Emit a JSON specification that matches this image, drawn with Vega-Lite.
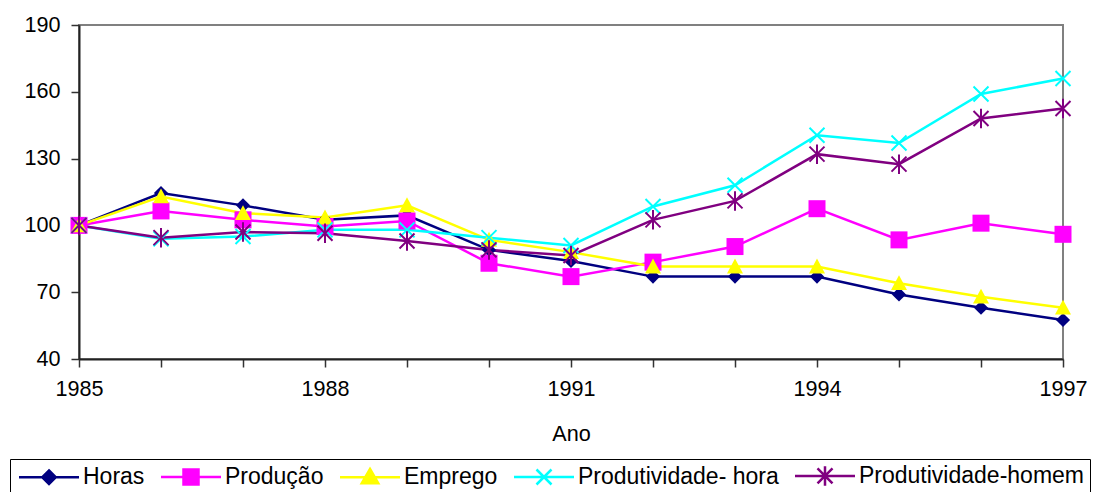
{
  "$schema": "https://vega.github.io/schema/vega-lite/v6.json",
  "width": 984,
  "height": 334,
  "autosize": {"type": "none"},
  "padding": {"left": 79, "top": 25, "right": 50, "bottom": 133},
  "background": "white",
  "config": {
    "font": "Liberation Sans",
    "view": {"stroke": "#808080", "strokeWidth": 2},
    "axis": {"grid": false, "labelFont": "Liberation Sans", "titleFont": "Liberation Sans"},
    "legend": {
      "title": null, "orient": "none", "legendX": -69, "legendY": 434,
      "direction": "horizontal", "columns": 5, "padding": 5,
      "strokeColor": "#000", "fillColor": "#fff",
      "labelFont": "Liberation Sans", "labelFontSize": 23, "labelColor": "#000",
      "labelOffset": 45, "labelLimit": 400, "columnPadding": 11,
      "symbolSize": 225, "symbolStrokeWidth": 2.5, "symbolOpacity": 1
    }
  },
  "data": {"values": [
    {"ano": 1985, "serie": "Horas", "valor": 100},
    {"ano": 1986, "serie": "Horas", "valor": 114.5},
    {"ano": 1987, "serie": "Horas", "valor": 109},
    {"ano": 1988, "serie": "Horas", "valor": 102.5},
    {"ano": 1989, "serie": "Horas", "valor": 104.5},
    {"ano": 1990, "serie": "Horas", "valor": 89},
    {"ano": 1991, "serie": "Horas", "valor": 84},
    {"ano": 1992, "serie": "Horas", "valor": 77},
    {"ano": 1993, "serie": "Horas", "valor": 77},
    {"ano": 1994, "serie": "Horas", "valor": 77},
    {"ano": 1995, "serie": "Horas", "valor": 69},
    {"ano": 1996, "serie": "Horas", "valor": 63},
    {"ano": 1997, "serie": "Horas", "valor": 57.5},
    {"ano": 1985, "serie": "Produção", "valor": 100},
    {"ano": 1986, "serie": "Produção", "valor": 106.5},
    {"ano": 1987, "serie": "Produção", "valor": 102.5},
    {"ano": 1988, "serie": "Produção", "valor": 99.5},
    {"ano": 1989, "serie": "Produção", "valor": 102},
    {"ano": 1990, "serie": "Produção", "valor": 83},
    {"ano": 1991, "serie": "Produção", "valor": 77},
    {"ano": 1992, "serie": "Produção", "valor": 83.5},
    {"ano": 1993, "serie": "Produção", "valor": 90.5},
    {"ano": 1994, "serie": "Produção", "valor": 107.5},
    {"ano": 1995, "serie": "Produção", "valor": 93.5},
    {"ano": 1996, "serie": "Produção", "valor": 101},
    {"ano": 1997, "serie": "Produção", "valor": 96},
    {"ano": 1985, "serie": "Emprego", "valor": 100},
    {"ano": 1986, "serie": "Emprego", "valor": 113},
    {"ano": 1987, "serie": "Emprego", "valor": 105.5},
    {"ano": 1988, "serie": "Emprego", "valor": 103.5},
    {"ano": 1989, "serie": "Emprego", "valor": 109},
    {"ano": 1990, "serie": "Emprego", "valor": 93.5},
    {"ano": 1991, "serie": "Emprego", "valor": 88},
    {"ano": 1992, "serie": "Emprego", "valor": 81.5},
    {"ano": 1993, "serie": "Emprego", "valor": 81.5},
    {"ano": 1994, "serie": "Emprego", "valor": 81.5},
    {"ano": 1995, "serie": "Emprego", "valor": 74},
    {"ano": 1996, "serie": "Emprego", "valor": 68},
    {"ano": 1997, "serie": "Emprego", "valor": 63},
    {"ano": 1985, "serie": "Produtividade- hora", "valor": 100},
    {"ano": 1986, "serie": "Produtividade- hora", "valor": 94},
    {"ano": 1987, "serie": "Produtividade- hora", "valor": 95},
    {"ano": 1988, "serie": "Produtividade- hora", "valor": 98},
    {"ano": 1989, "serie": "Produtividade- hora", "valor": 98},
    {"ano": 1990, "serie": "Produtividade- hora", "valor": 94.5},
    {"ano": 1991, "serie": "Produtividade- hora", "valor": 91},
    {"ano": 1992, "serie": "Produtividade- hora", "valor": 108.5},
    {"ano": 1993, "serie": "Produtividade- hora", "valor": 118},
    {"ano": 1994, "serie": "Produtividade- hora", "valor": 140.5},
    {"ano": 1995, "serie": "Produtividade- hora", "valor": 137},
    {"ano": 1996, "serie": "Produtividade- hora", "valor": 159},
    {"ano": 1997, "serie": "Produtividade- hora", "valor": 166},
    {"ano": 1985, "serie": "Produtividade-homem", "valor": 100},
    {"ano": 1986, "serie": "Produtividade-homem", "valor": 94.5},
    {"ano": 1987, "serie": "Produtividade-homem", "valor": 97},
    {"ano": 1988, "serie": "Produtividade-homem", "valor": 96.5},
    {"ano": 1989, "serie": "Produtividade-homem", "valor": 93},
    {"ano": 1990, "serie": "Produtividade-homem", "valor": 89},
    {"ano": 1991, "serie": "Produtividade-homem", "valor": 86.5},
    {"ano": 1992, "serie": "Produtividade-homem", "valor": 102.5},
    {"ano": 1993, "serie": "Produtividade-homem", "valor": 111},
    {"ano": 1994, "serie": "Produtividade-homem", "valor": 132},
    {"ano": 1995, "serie": "Produtividade-homem", "valor": 127.5},
    {"ano": 1996, "serie": "Produtividade-homem", "valor": 148},
    {"ano": 1997, "serie": "Produtividade-homem", "valor": 152.5}
  ]},
  "encoding": {
    "x": {
      "field": "ano", "type": "quantitative",
      "scale": {"domain": [1985, 1997], "nice": false, "zero": false},
      "axis": {
        "title": "Ano", "values": [1985,1986,1987,1988,1989,1990,1991,1992,1993,1994,1995,1996,1997],
        "labelExpr": "(datum.value - 1985) % 3 == 0 ? datum.value : ''",
        "format": "d",
        "labelFontSize": 21.6, "labelColor": "#000", "labelPadding": 11,
        "tickSize": 8, "tickColor": "#333", "tickWidth": 1.5,
        "domainColor": "#222", "domainWidth": 2,
        "titleFontSize": 21.6, "titleFontWeight": "normal", "titleColor": "#000", "titlePadding": 24,
        "labelFlush": false, "labelOverlap": false
      }
    },
    "y": {
      "field": "valor", "type": "quantitative",
      "scale": {"domain": [40, 190], "nice": false, "zero": false},
      "axis": {
        "title": null, "values": [40, 70, 100, 130, 160, 190],
        "labelFontSize": 21.6, "labelColor": "#000", "labelPadding": 11,
        "tickSize": 8, "tickColor": "#333", "tickWidth": 1.5,
        "domainColor": "#222", "domainWidth": 2
      }
    },
    "color": {
      "field": "serie", "type": "nominal",
      "scale": {
        "domain": ["Horas", "Produção", "Emprego", "Produtividade- hora", "Produtividade-homem"],
        "range": ["#000080", "#FF00FF", "#FFFF00", "#00FFFF", "#800080"]
      },
      "legend": {
        "encode": {"symbols": {"update": {
          "stroke": {"scale": "color", "field": "value"},
          "fill": {"scale": "color", "field": "value"},
          "opacity": {"value": 1},
          "strokeWidth": {"value": 2.5}
        }}}
      }
    }
  },
  "layer": [
    {"mark": {"type": "line", "strokeWidth": 2.5}},
    {"transform": [{"filter": "datum.serie == 'Horas'"}],
     "mark": {"type": "point", "filled": true, "opacity": 1, "shape": "diamond", "size": 200}},
    {"transform": [{"filter": "datum.serie == 'Produção'"}],
     "mark": {"type": "point", "filled": true, "opacity": 1, "shape": "square", "size": 289}},
    {"transform": [{"filter": "datum.serie == 'Emprego'"}],
     "mark": {"type": "point", "filled": true, "opacity": 1, "shape": "M0,-1L1,0.85L-1,0.85Z", "size": 256}},
    {"transform": [{"filter": "datum.serie == 'Produtividade- hora'"}],
     "mark": {"type": "point", "filled": false, "opacity": 1, "shape": "M-1,-1L1,1M-1,1L1,-1", "size": 225, "strokeWidth": 2}},
    {"transform": [{"filter": "datum.serie == 'Produtividade-homem'"}],
     "mark": {"type": "point", "filled": false, "opacity": 1, "shape": "M-1,-1L1,1M-1,1L1,-1M0,-1.3V1.3", "size": 225, "strokeWidth": 2}},
    {
      "mark": {"type": "point", "filled": true, "opacity": 0},
      "encoding": {
        "x": {"value": 0},
        "y": {"value": 0},
        "shape": {
          "field": "serie", "type": "nominal",
          "scale": {
            "domain": ["Horas", "Produção", "Emprego", "Produtividade- hora", "Produtividade-homem"],
            "range": [
              "M-1,0H7M3,-0.9L3.9,0L3,0.9L2.1,0Z",
              "M-1,0H7M2,-1H4V1H2Z",
              "M-1,0H7M3,-1.1L4.1,0.8H1.9Z",
              "M-1,0H7M2,-1L4,1M2,1L4,-1",
              "M-1,0H7M2,-1L4,1M2,1L4,-1M3,-1.3V1.3"
            ]
          },
          "legend": {
            "encode": {"symbols": {"update": {
              "stroke": {"scale": "color", "field": "value"},
              "fill": {"scale": "color", "field": "value"},
              "opacity": {"value": 1},
              "strokeWidth": {"value": 2.5}
            }}}
          }
        }
      }
    }
  ]
}
